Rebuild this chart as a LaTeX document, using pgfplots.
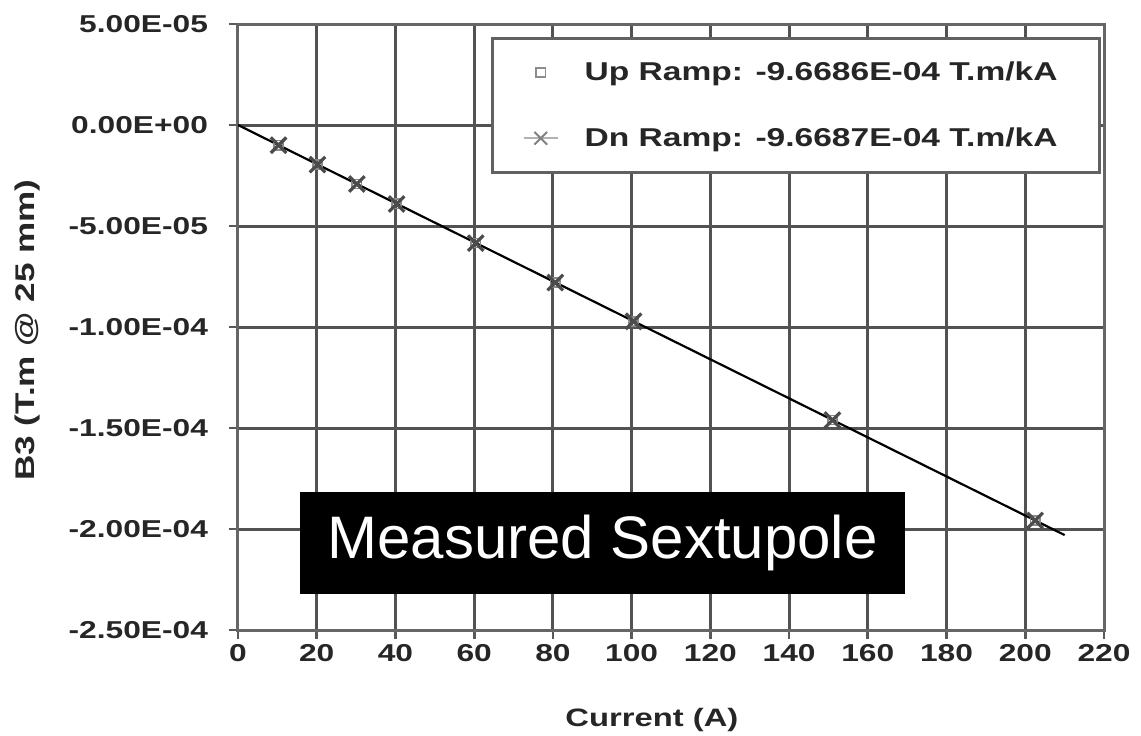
\documentclass[border=0pt]{standalone}
\usepackage{fontspec}
\setmainfont{Liberation Sans}[FakeStretch=1.3]
\newfontfamily\titlefont{Liberation Sans}
\usepackage{pgfplots}
\pgfplotsset{compat=1.18}

% measured B3 vs current, both ramps
\pgfplotstableread{
I     B3
10.3  -1.00e-5
20.2  -1.95e-5
30.2  -2.92e-5
40.3  -3.90e-5
60.4  -5.84e-5
80.6  -7.79e-5
100.5 -9.72e-5
151.0 -1.460e-4
202.5 -1.958e-4
}\upramp
\pgfplotstableread{
I     B3
10.3  -1.00e-5
20.2  -1.96e-5
30.2  -2.92e-5
40.3  -3.91e-5
60.4  -5.85e-5
80.6  -7.80e-5
100.5 -9.72e-5
151.0 -1.461e-4
202.5 -1.958e-4
}\dnramp

\begin{document}
\begin{tikzpicture}
\begin{axis}[
    scale only axis,
    width=433pt, height=303pt,
    xmin=0, xmax=220, ymin=-2.5e-4, ymax=5e-5,
    xtick={0,20,...,220},
    xticklabels={0,20,40,60,80,100,120,140,160,180,200,220},
    ytick={-2.5e-4,-2e-4,-1.5e-4,-1e-4,-5e-5,0,5e-5},
    yticklabels={-2.50E-04,-2.00E-04,-1.50E-04,-1.00E-04,-5.00E-05,0.00E+00,5.00E-05},
    scaled y ticks=false,
    tick pos=left,
    tick align=outside,
    major tick length=4.5pt,
    tick style={black!65, line width=1.4pt},
    grid=major,
    grid style={black!68, line width=1.5pt},
    axis line style={black!60, line width=1.5pt},
    ticklabel style={font=\bfseries\fontsize{12.2}{14}\selectfont, text=black!85},
    yticklabel style={xshift=-7pt},
    xticklabel style={yshift=1pt},
    xlabel={Current (A)},
    ylabel={B3 (T.m @ 25 mm)},
    every axis x label/.style={at={(axis description cs:0.478,-0.148)}, anchor=center,
        font=\bfseries\fontsize{12.6}{15}\selectfont, text=black!85},
    every axis y label/.style={at={(axis description cs:-0.2425,0.495)}, anchor=center, rotate=90,
        font=\bfseries\fontsize{13.5}{16}\selectfont, text=black!85},
    legend style={at={(0.9965,0.978)}, anchor=north east,
        draw=black!62, line width=1.4pt,
        font=\bfseries\fontsize{12.9}{15}\selectfont, text=black!85,
        row sep=18pt, column sep=11pt, inner xsep=15pt, inner ysep=9.5pt},
    legend cell align=left,
]
\addplot[only marks, mark=square, mark size=2.3pt, black!45, line width=0.8pt] table[x=I, y=B3] {\upramp};
\addlegendentry{Up Ramp: -9.6686E-04 T.m/kA\kern4pt}
\addplot[only marks, mark=x, mark size=5.5pt, black!70, line width=1.6pt,
    legend image code/.code={
        \draw[black!30, line width=0.9pt] (0cm,0cm) -- (0.6cm,0cm);
        \pgfplotsset{mark size=4.5pt}
        \path[black!50, line width=1pt, mark=x] plot coordinates {(0.3cm,0cm)};
    }] table[x=I, y=B3] {\dnramp};
\addlegendentry{Dn Ramp: -9.6687E-04 T.m/kA\kern4pt}
\addplot[black, line width=1.1pt, forget plot] coordinates {(0,0) (210,-2.03e-4)};
\node[fill=black, text=white, minimum width=302.5pt, minimum height=51pt,
      font=\titlefont\fontsize{30}{34}\selectfont] at (axis cs:92.6,-2.07e-4) {Measured Sextupole};
\end{axis}
\pgfresetboundingbox
\path ([shift={(-119pt,-52.5pt)}]current axis.south west) rectangle ([shift={(451.5pt,315pt)}]current axis.south west);
\end{tikzpicture}
\end{document}
